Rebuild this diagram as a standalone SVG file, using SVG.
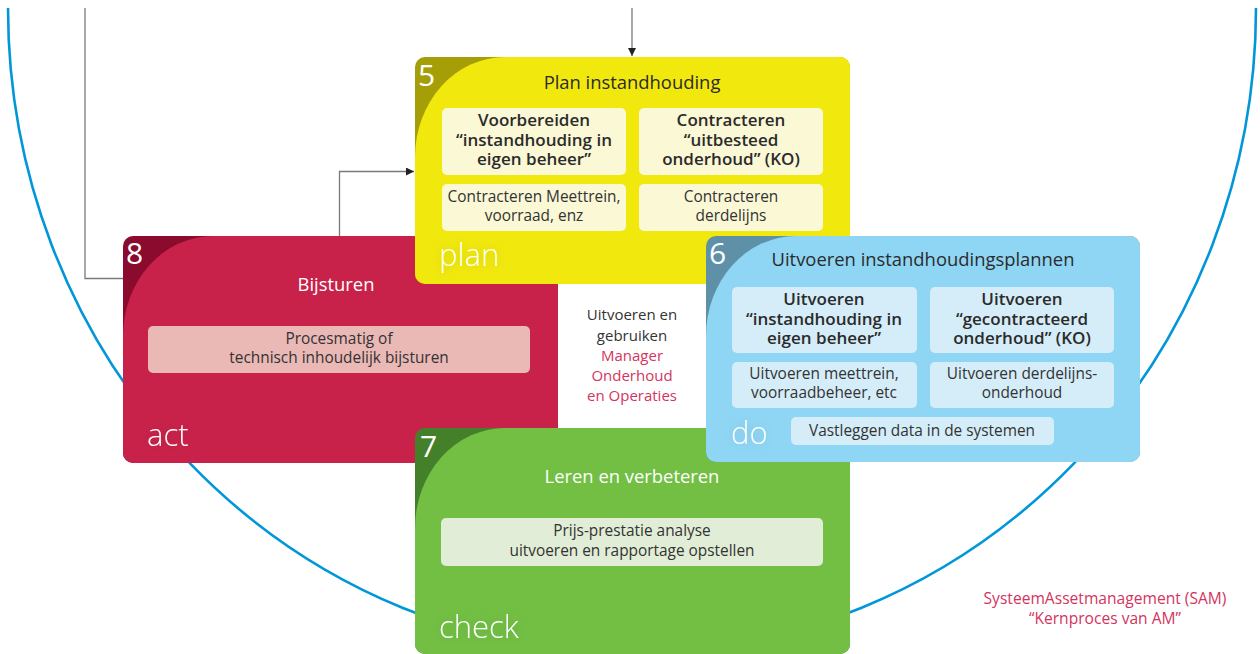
<svg xmlns="http://www.w3.org/2000/svg" width="1260" height="654" viewBox="0 0 1260 654">
  <defs>
    <style>
      text { font-family: "Open Sans", "Noto Sans", "Liberation Sans", sans-serif; }
      .num { font-size: 30px; fill: #ffffff; }
      .phase { font-size: 31px; fill: #ffffff; font-weight: 300; }
      .title { font-size: 18.4px; text-anchor: middle; }
      .t-dark { fill: #2b2b2b; }
      .t-light { fill: #ffffff; }
      .bold { font-size: 17px; font-weight: 600; fill: #2b2b2b; text-anchor: middle; }
      .body { font-size: 15.4px; fill: #333333; text-anchor: middle; }
      .mid { font-size: 15px; text-anchor: middle; }
      .sam { font-size: 15.6px; text-anchor: middle; }
      .red { fill: #d2355e; }
      .grey { fill: #333333; }
      .cell-y { fill: #fbf8d6; }
      .cell-r { fill: #eab8b5; }
      .cell-b { fill: #d5edf9; }
      .cell-g { fill: #e1edd6; }
      .conn { fill: none; stroke: #7a7a7a; stroke-width: 1.3; }
    </style>
    <marker id="arrow" viewBox="0 0 10 10" refX="10" refY="5" markerWidth="8" markerHeight="8" markerUnits="userSpaceOnUse" orient="auto">
      <path d="M0,0 L10,5 L0,10 Z" fill="#222222"/>
    </marker>
    <filter id="halo" x="-30%" y="-40%" width="160%" height="180%">
      <feGaussianBlur in="SourceAlpha" stdDeviation="4" result="b"/>
      <feFlood flood-color="#000000" flood-opacity="0.12"/>
      <feComposite in2="b" operator="in" result="s"/>
      <feMerge><feMergeNode in="s"/><feMergeNode in="SourceGraphic"/></feMerge>
    </filter>
  </defs>

  <rect width="1260" height="654" fill="#ffffff"/>

  <!-- outer cycle arc -->
  <path d="M 8,8 A 624 645 0 0 0 1256,8" fill="none" stroke="#0097d9" stroke-width="2.6"/>

  <!-- connectors -->
  <g id="connectors">
    <path class="conn" d="M 85,8 V 278.5 H 123"/>
    <path class="conn" d="M 632,8 V 56" stroke="#444444" marker-end="url(#arrow)"/>
    <path class="conn" d="M 339.5,236 V 171.5 H 414" marker-end="url(#arrow)"/>
  </g>

  <!-- 8 act -->
  <g id="node-act">
    <rect x="123" y="236" width="435" height="227" rx="10" fill="#8a0b2e"/>
    <path d="M 213,236 H 548 A 10 10 0 0 1 558,246 V 453 A 10 10 0 0 1 548,463 H 133 A 10 10 0 0 1 123,453 V 336 A 90 100 0 0 1 213,236 Z" fill="#c8224a"/>
    <text class="num" x="126" y="264">8</text>
    <text class="title t-light" x="336" y="291">Bijsturen</text>
    <rect class="cell-r" x="148" y="326" width="382" height="47" rx="5"/>
    <text class="body" x="339" y="344">Procesmatig of</text>
    <text class="body" x="339" y="363">technisch inhoudelijk bijsturen</text>
    <text class="phase" x="147" y="446" filter="url(#halo)">act</text>
  </g>

  <!-- 5 plan -->
  <g id="node-plan">
    <rect x="415" y="57" width="435" height="227" rx="10" fill="#a69e06"/>
    <path d="M 505,57 H 840 A 10 10 0 0 1 850,67 V 274 A 10 10 0 0 1 840,284 H 425 A 10 10 0 0 1 415,274 V 157 A 90 100 0 0 1 505,57 Z" fill="#f1e80e"/>
    <text class="num" x="418" y="86">5</text>
    <text class="title t-dark" x="632" y="89">Plan instandhouding</text>
    <rect class="cell-y" x="442" y="108" width="184" height="67" rx="5"/>
    <text class="bold" x="534" y="126">Voorbereiden</text>
    <text class="bold" x="534" y="146">“instandhouding in</text>
    <text class="bold" x="534" y="165">eigen beheer”</text>
    <rect class="cell-y" x="639" y="108" width="184" height="67" rx="5"/>
    <text class="bold" x="731" y="126">Contracteren</text>
    <text class="bold" x="731" y="146">“uitbesteed</text>
    <text class="bold" x="731" y="165">onderhoud” (KO)</text>
    <rect class="cell-y" x="442" y="184" width="184" height="47" rx="5"/>
    <text class="body" x="534" y="202">Contracteren Meettrein,</text>
    <text class="body" x="534" y="221">voorraad, enz</text>
    <rect class="cell-y" x="639" y="184" width="184" height="47" rx="5"/>
    <text class="body" x="731" y="202">Contracteren</text>
    <text class="body" x="731" y="221">derdelijns</text>
    <text class="phase" x="439" y="266" filter="url(#halo)">plan</text>
  </g>

  <!-- 7 check -->
  <g id="node-check">
    <rect x="415" y="428" width="435" height="226" rx="10" fill="#447f2a"/>
    <path d="M 505,428 H 840 A 10 10 0 0 1 850,438 V 644 A 10 10 0 0 1 840,654 H 425 A 10 10 0 0 1 415,644 V 528 A 90 100 0 0 1 505,428 Z" fill="#72bf44"/>
    <text class="num" x="420" y="457">7</text>
    <text class="title t-light" x="632" y="483">Leren en verbeteren</text>
    <rect class="cell-g" x="441" y="518" width="382" height="48" rx="5"/>
    <text class="body" x="632" y="536">Prijs-prestatie analyse</text>
    <text class="body" x="632" y="556">uitvoeren en rapportage opstellen</text>
    <text class="phase" x="439" y="638" filter="url(#halo)">check</text>
  </g>

  <!-- 6 do -->
  <g id="node-do">
    <rect x="706" y="236" width="434" height="226" rx="10" fill="#5e90a8"/>
    <path d="M 796,236 H 1130 A 10 10 0 0 1 1140,246 V 452 A 10 10 0 0 1 1130,462 H 716 A 10 10 0 0 1 706,452 V 336 A 90 100 0 0 1 796,236 Z" fill="#8fd6f5"/>
    <text class="num" x="709" y="264">6</text>
    <text class="title t-dark" x="923" y="266">Uitvoeren instandhoudingsplannen</text>
    <rect class="cell-b" x="732" y="287" width="185" height="66" rx="5"/>
    <text class="bold" x="824" y="305">Uitvoeren</text>
    <text class="bold" x="824" y="325">“instandhouding in</text>
    <text class="bold" x="824" y="344">eigen beheer”</text>
    <rect class="cell-b" x="930" y="287" width="184" height="66" rx="5"/>
    <text class="bold" x="1022" y="305">Uitvoeren</text>
    <text class="bold" x="1022" y="325">“gecontracteerd</text>
    <text class="bold" x="1022" y="344">onderhoud” (KO)</text>
    <rect class="cell-b" x="732" y="362" width="185" height="46" rx="5"/>
    <text class="body" x="824" y="379">Uitvoeren meettrein,</text>
    <text class="body" x="824" y="398">voorraadbeheer, etc</text>
    <rect class="cell-b" x="930" y="362" width="184" height="46" rx="5"/>
    <text class="body" x="1022" y="379">Uitvoeren derdelijns-</text>
    <text class="body" x="1022" y="398">onderhoud</text>
    <rect class="cell-b" x="791" y="417" width="263" height="28" rx="5"/>
    <text class="body" x="922" y="436">Vastleggen data in de systemen</text>
    <text class="phase" x="731" y="444" filter="url(#halo)">do</text>
  </g>

  <!-- centre caption -->
  <g id="caption-centre">
    <text class="mid grey" x="632" y="320">Uitvoeren en</text>
    <text class="mid grey" x="632" y="341">gebruiken</text>
    <text class="mid red" x="632" y="361">Manager</text>
    <text class="mid red" x="632" y="381">Onderhoud</text>
    <text class="mid red" x="632" y="401">en Operaties</text>
  </g>

  <!-- corner caption -->
  <g id="caption-sam">
    <text class="sam red" x="1105" y="604">SysteemAssetmanagement (SAM)</text>
    <text class="sam red" x="1105" y="624">“Kernproces van AM”</text>
  </g>
</svg>
